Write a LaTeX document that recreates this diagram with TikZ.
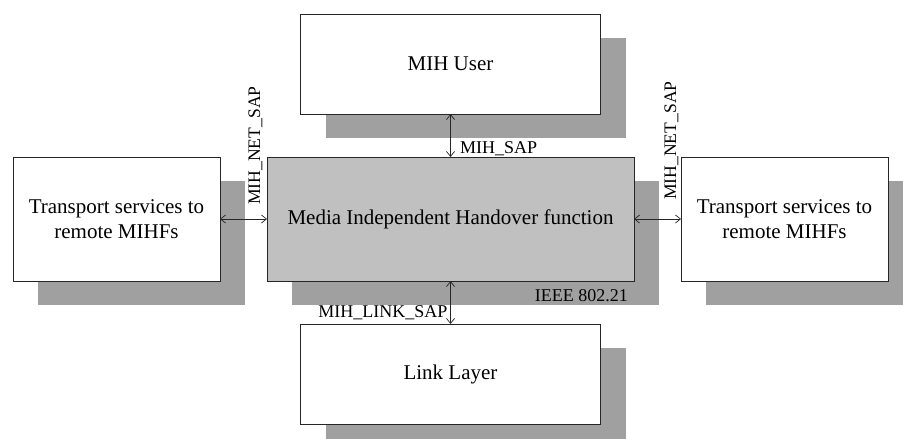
\documentclass[tikz,border=0pt]{standalone}
\usepackage{fontspec}
\setmainfont{Liberation Serif}
\usepackage{tikz}
\usetikzlibrary{positioning,calc,shadows,arrows.meta}

\definecolor{shadowgray}{HTML}{A0A0A0}
\definecolor{funcgray}{HTML}{C0C0C0}

\begin{document}
\begin{tikzpicture}[block/.style={rectangle, draw=black!85, line width=0.8pt, fill=white, inner sep=0pt, outer sep=0pt, align=center, font=\rmfamily\fontsize{21}{25}\selectfont,
        drop shadow={shadow xshift=25pt, shadow yshift=-24pt, fill=shadowgray, opacity=1}},
    wide/.style={minimum width=300pt, minimum height=100pt},
    side/.style={minimum width=207pt, minimum height=124pt},
    saplabel/.style={inner sep=0pt, font=\rmfamily\fontsize{18}{20}\selectfont},
    netlabel/.style={inner sep=0pt, rotate=90, anchor=base west, font=\rmfamily\fontsize{17.6}{20}\selectfont},
    >={Straight Barb[length=5pt,width=8pt]}]
        \useasboundingbox (0,0) rectangle (903pt,-439pt);
        % Nodes
        \node [block, fill=funcgray, minimum width=367pt, minimum height=124pt] (mihf) at (450.5pt,-219pt) {Media Independent Handover function};
        \node [block, wide, above=43pt of mihf] (user) {MIH User};
        \node [block, side, left=47pt of mihf] (transl) {Transport services to\\remote MIHFs};
        \node [block, side, right=47pt of mihf] (transr) {Transport services to\\remote MIHFs};
        \node [block, wide, below=43pt of mihf] (link) {Link Layer};

        % Arrows
        \draw[<->, black!85, line width=0.7pt] (user.south) -- (user.south |- mihf.north);
        \draw[<->, black!85, line width=0.7pt] (mihf.south -| link.north) -- (link.north);
        \draw[<->, black!85, line width=0.7pt] (transl.east) -- (mihf.west);
        \draw[<->, black!85, line width=0.7pt] (mihf.east) -- (transr.west);

        % Labels
        \node [saplabel, anchor=base west] (sapuser) at ([xshift=9.5pt,yshift=4pt]mihf.north) {MIH\_SAP};
        \node [saplabel, anchor=base east] (saplink) at ([xshift=-3pt,yshift=7pt]link.north) {MIH\_LINK\_SAP};
        \node [saplabel, anchor=base east] (ieee) at ([xshift=-6pt,yshift=-20pt]mihf.south east) {IEEE 802.21};
        \node [netlabel] (netl) at ([xshift=40pt,yshift=14pt]transl.east) {MIH\_NET\_SAP};
        \node [netlabel] (netr) at ([xshift=-5pt,yshift=19pt]transr.west) {MIH\_NET\_SAP};
        
        \end{tikzpicture}
\end{document}
